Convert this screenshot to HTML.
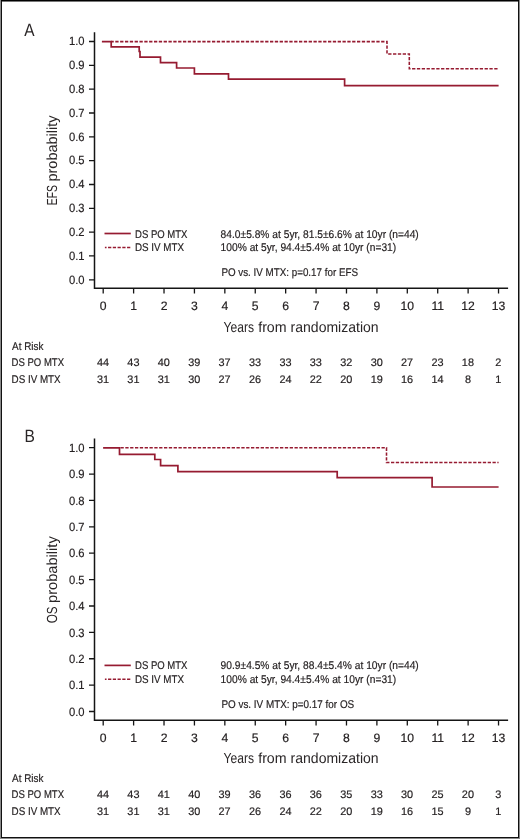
<!DOCTYPE html>
<html><head><meta charset="utf-8"><title>EFS / OS</title>
<style>
html,body{margin:0;padding:0;background:#fff;}
body{width:520px;height:839px;overflow:hidden;}
svg{display:block;will-change:transform;text-rendering:geometricPrecision;font-family:"Liberation Sans",sans-serif;}
svg text{fill:#262223;stroke:#262223;stroke-width:0.18px;}
svg text.t{stroke:none;fill:#2a2627;}
</style></head>
<body>
<svg width="520" height="839" viewBox="0 0 520 839">
<rect x="0" y="0" width="520" height="839" fill="#fff"/>
<!-- frame -->
<rect x="0" y="0" width="1" height="839" fill="#8a8a8a"/>
<rect x="519" y="0" width="1" height="839" fill="#8a8a8a"/>
<rect x="0" y="838" width="520" height="1" fill="#8a8a8a"/>
<rect x="1" y="0" width="1" height="838" fill="#111"/>
<rect x="518" y="0" width="1" height="838" fill="#111"/>
<rect x="1" y="0" width="518" height="1" fill="#000"/>
<rect x="2" y="1" width="516" height="1" fill="#777"/>
<rect x="1" y="837" width="518" height="1" fill="#111"/>
<path d="M94.5,32.20 V288.30 H508.1" fill="none" stroke="#151515" stroke-width="1.5"/>
<path d="M89,41.50H94.5M89,65.33H94.5M89,89.16H94.5M89,112.99H94.5M89,136.82H94.5M89,160.65H94.5M89,184.48H94.5M89,208.31H94.5M89,232.14H94.5M89,255.97H94.5M89,279.80H94.5" stroke="#151515" stroke-width="1.3"/>
<path d="M103.20,288.30V293.50M133.61,288.30V293.50M164.02,288.30V293.50M194.43,288.30V293.50M224.84,288.30V293.50M255.25,288.30V293.50M285.66,288.30V293.50M316.07,288.30V293.50M346.48,288.30V293.50M376.89,288.30V293.50M407.30,288.30V293.50M437.71,288.30V293.50M468.12,288.30V293.50M498.53,288.30V293.50" stroke="#151515" stroke-width="1.3"/>
<text x="84.5" y="45.20" text-anchor="end" font-size="12" textLength="15.6" lengthAdjust="spacingAndGlyphs">1.0</text>
<text x="84.5" y="69.03" text-anchor="end" font-size="12" textLength="15.6" lengthAdjust="spacingAndGlyphs">0.9</text>
<text x="84.5" y="92.86" text-anchor="end" font-size="12" textLength="15.6" lengthAdjust="spacingAndGlyphs">0.8</text>
<text x="84.5" y="116.69" text-anchor="end" font-size="12" textLength="15.6" lengthAdjust="spacingAndGlyphs">0.7</text>
<text x="84.5" y="140.52" text-anchor="end" font-size="12" textLength="15.6" lengthAdjust="spacingAndGlyphs">0.6</text>
<text x="84.5" y="164.35" text-anchor="end" font-size="12" textLength="15.6" lengthAdjust="spacingAndGlyphs">0.5</text>
<text x="84.5" y="188.18" text-anchor="end" font-size="12" textLength="15.6" lengthAdjust="spacingAndGlyphs">0.4</text>
<text x="84.5" y="212.01" text-anchor="end" font-size="12" textLength="15.6" lengthAdjust="spacingAndGlyphs">0.3</text>
<text x="84.5" y="235.84" text-anchor="end" font-size="12" textLength="15.6" lengthAdjust="spacingAndGlyphs">0.2</text>
<text x="84.5" y="259.67" text-anchor="end" font-size="12" textLength="15.6" lengthAdjust="spacingAndGlyphs">0.1</text>
<text x="84.5" y="283.50" text-anchor="end" font-size="12" textLength="15.6" lengthAdjust="spacingAndGlyphs">0.0</text>
<text x="103.20" y="309.70" text-anchor="middle" font-size="12.2">0</text>
<text x="133.61" y="309.70" text-anchor="middle" font-size="12.2">1</text>
<text x="164.02" y="309.70" text-anchor="middle" font-size="12.2">2</text>
<text x="194.43" y="309.70" text-anchor="middle" font-size="12.2">3</text>
<text x="224.84" y="309.70" text-anchor="middle" font-size="12.2">4</text>
<text x="255.25" y="309.70" text-anchor="middle" font-size="12.2">5</text>
<text x="285.66" y="309.70" text-anchor="middle" font-size="12.2">6</text>
<text x="316.07" y="309.70" text-anchor="middle" font-size="12.2">7</text>
<text x="346.48" y="309.70" text-anchor="middle" font-size="12.2">8</text>
<text x="376.89" y="309.70" text-anchor="middle" font-size="12.2">9</text>
<text x="407.30" y="309.70" text-anchor="middle" font-size="12.2">10</text>
<text x="437.71" y="309.70" text-anchor="middle" font-size="12.2">11</text>
<text x="468.12" y="309.70" text-anchor="middle" font-size="12.2">12</text>
<text x="498.53" y="309.70" text-anchor="middle" font-size="12.2">13</text>
<text x="223.6" y="331.50" class="t" font-size="14.6" textLength="30.5" lengthAdjust="spacingAndGlyphs">Years</text>
<text x="258.2" y="331.50" class="t" font-size="14.6" textLength="28.4" lengthAdjust="spacingAndGlyphs">from</text>
<text x="290.6" y="331.50" class="t" font-size="14.6" textLength="88.0" lengthAdjust="spacingAndGlyphs">randomization</text>
<text transform="translate(57.0,0) rotate(-90)" x="-205.30" y="0" class="t" font-size="14.6" textLength="20.2" lengthAdjust="spacingAndGlyphs">EFS</text>
<text transform="translate(57.0,0) rotate(-90)" x="-181.50" y="0" class="t" font-size="14.6" textLength="66.0" lengthAdjust="spacingAndGlyphs">probability</text>
<text x="24.2" y="35.90" class="t" font-size="17.8" textLength="10.3" lengthAdjust="spacingAndGlyphs">A</text>
<path d="M111.2,41.6 H387 V53.9 H409.3 V68.7 H498.6" fill="none" stroke="#961b31" stroke-width="1.55" stroke-dasharray="3.3 1.534" stroke-dashoffset="0.742"/>
<path d="M101.9,41.6 H111.2 V46.8 H139.2 V51.5 H140.0 V57.2 H160.5 V62.7 H176.6 V68.0 H194.4 V73.9 H228.5 V79.1 H344.6 V85.7 H498.6" fill="none" stroke="#961b31" stroke-width="1.7"/>
<path d="M104.5,233.50H130.8" stroke="#961b31" stroke-width="1.7"/>
<path d="M104.9,247.40H130.9" stroke="#961b31" stroke-width="1.55" stroke-dasharray="3.25 1.5" stroke-dashoffset="1.6"/>
<text x="135" y="237.50" font-size="11.2" textLength="52.4" lengthAdjust="spacingAndGlyphs">DS PO MTX</text>
<text x="135" y="250.80" font-size="11.2" textLength="49" lengthAdjust="spacingAndGlyphs">DS IV MTX</text>
<text x="220.6" y="237.50" font-size="11.2" textLength="198.2" lengthAdjust="spacingAndGlyphs">84.0±5.8% at 5yr, 81.5±6.6% at 10yr (n=44)</text>
<text x="220.6" y="250.80" font-size="11.2" textLength="175.6" lengthAdjust="spacingAndGlyphs">100% at 5yr, 94.4±5.4% at 10yr (n=31)</text>
<text x="221.4" y="275.70" font-size="11.2" textLength="136.6" lengthAdjust="spacingAndGlyphs">PO vs. IV MTX: p=0.17 for EFS</text>
<text x="12.1" y="349.90" font-size="11.2" textLength="31.4" lengthAdjust="spacingAndGlyphs">At Risk</text>
<text x="11.6" y="366.00" font-size="11.2" textLength="52.4" lengthAdjust="spacingAndGlyphs">DS PO MTX</text>
<text x="11.6" y="382.80" font-size="11.2" textLength="49" lengthAdjust="spacingAndGlyphs">DS IV MTX</text>
<text x="103.00" y="366.00" text-anchor="middle" font-size="10.9">44</text>
<text x="103.00" y="382.60" text-anchor="middle" font-size="10.9">31</text>
<text x="133.41" y="366.00" text-anchor="middle" font-size="10.9">43</text>
<text x="133.41" y="382.60" text-anchor="middle" font-size="10.9">31</text>
<text x="163.82" y="366.00" text-anchor="middle" font-size="10.9">40</text>
<text x="163.82" y="382.60" text-anchor="middle" font-size="10.9">31</text>
<text x="194.23" y="366.00" text-anchor="middle" font-size="10.9">39</text>
<text x="194.23" y="382.60" text-anchor="middle" font-size="10.9">30</text>
<text x="224.64" y="366.00" text-anchor="middle" font-size="10.9">37</text>
<text x="224.64" y="382.60" text-anchor="middle" font-size="10.9">27</text>
<text x="255.05" y="366.00" text-anchor="middle" font-size="10.9">33</text>
<text x="255.05" y="382.60" text-anchor="middle" font-size="10.9">26</text>
<text x="285.46" y="366.00" text-anchor="middle" font-size="10.9">33</text>
<text x="285.46" y="382.60" text-anchor="middle" font-size="10.9">24</text>
<text x="315.87" y="366.00" text-anchor="middle" font-size="10.9">33</text>
<text x="315.87" y="382.60" text-anchor="middle" font-size="10.9">22</text>
<text x="346.28" y="366.00" text-anchor="middle" font-size="10.9">32</text>
<text x="346.28" y="382.60" text-anchor="middle" font-size="10.9">20</text>
<text x="376.69" y="366.00" text-anchor="middle" font-size="10.9">30</text>
<text x="376.69" y="382.60" text-anchor="middle" font-size="10.9">19</text>
<text x="407.10" y="366.00" text-anchor="middle" font-size="10.9">27</text>
<text x="407.10" y="382.60" text-anchor="middle" font-size="10.9">16</text>
<text x="437.51" y="366.00" text-anchor="middle" font-size="10.9">23</text>
<text x="437.51" y="382.60" text-anchor="middle" font-size="10.9">14</text>
<text x="467.92" y="366.00" text-anchor="middle" font-size="10.9">18</text>
<text x="467.92" y="382.60" text-anchor="middle" font-size="10.9">8</text>
<text x="498.33" y="366.00" text-anchor="middle" font-size="10.9">2</text>
<text x="498.33" y="382.60" text-anchor="middle" font-size="10.9">1</text>
<path d="M94.5,438.40 V720.20 H508.1" fill="none" stroke="#151515" stroke-width="1.5"/>
<path d="M89,447.70H94.5M89,474.08H94.5M89,500.46H94.5M89,526.84H94.5M89,553.22H94.5M89,579.60H94.5M89,605.98H94.5M89,632.36H94.5M89,658.74H94.5M89,685.12H94.5M89,711.50H94.5" stroke="#151515" stroke-width="1.3"/>
<path d="M103.20,720.20V725.40M133.61,720.20V725.40M164.02,720.20V725.40M194.43,720.20V725.40M224.84,720.20V725.40M255.25,720.20V725.40M285.66,720.20V725.40M316.07,720.20V725.40M346.48,720.20V725.40M376.89,720.20V725.40M407.30,720.20V725.40M437.71,720.20V725.40M468.12,720.20V725.40M498.53,720.20V725.40" stroke="#151515" stroke-width="1.3"/>
<text x="84.5" y="451.90" text-anchor="end" font-size="12" textLength="15.6" lengthAdjust="spacingAndGlyphs">1.0</text>
<text x="84.5" y="478.28" text-anchor="end" font-size="12" textLength="15.6" lengthAdjust="spacingAndGlyphs">0.9</text>
<text x="84.5" y="504.66" text-anchor="end" font-size="12" textLength="15.6" lengthAdjust="spacingAndGlyphs">0.8</text>
<text x="84.5" y="531.04" text-anchor="end" font-size="12" textLength="15.6" lengthAdjust="spacingAndGlyphs">0.7</text>
<text x="84.5" y="557.42" text-anchor="end" font-size="12" textLength="15.6" lengthAdjust="spacingAndGlyphs">0.6</text>
<text x="84.5" y="583.80" text-anchor="end" font-size="12" textLength="15.6" lengthAdjust="spacingAndGlyphs">0.5</text>
<text x="84.5" y="610.18" text-anchor="end" font-size="12" textLength="15.6" lengthAdjust="spacingAndGlyphs">0.4</text>
<text x="84.5" y="636.56" text-anchor="end" font-size="12" textLength="15.6" lengthAdjust="spacingAndGlyphs">0.3</text>
<text x="84.5" y="662.94" text-anchor="end" font-size="12" textLength="15.6" lengthAdjust="spacingAndGlyphs">0.2</text>
<text x="84.5" y="689.32" text-anchor="end" font-size="12" textLength="15.6" lengthAdjust="spacingAndGlyphs">0.1</text>
<text x="84.5" y="715.70" text-anchor="end" font-size="12" textLength="15.6" lengthAdjust="spacingAndGlyphs">0.0</text>
<text x="103.20" y="741.60" text-anchor="middle" font-size="12.2">0</text>
<text x="133.61" y="741.60" text-anchor="middle" font-size="12.2">1</text>
<text x="164.02" y="741.60" text-anchor="middle" font-size="12.2">2</text>
<text x="194.43" y="741.60" text-anchor="middle" font-size="12.2">3</text>
<text x="224.84" y="741.60" text-anchor="middle" font-size="12.2">4</text>
<text x="255.25" y="741.60" text-anchor="middle" font-size="12.2">5</text>
<text x="285.66" y="741.60" text-anchor="middle" font-size="12.2">6</text>
<text x="316.07" y="741.60" text-anchor="middle" font-size="12.2">7</text>
<text x="346.48" y="741.60" text-anchor="middle" font-size="12.2">8</text>
<text x="376.89" y="741.60" text-anchor="middle" font-size="12.2">9</text>
<text x="407.30" y="741.60" text-anchor="middle" font-size="12.2">10</text>
<text x="437.71" y="741.60" text-anchor="middle" font-size="12.2">11</text>
<text x="468.12" y="741.60" text-anchor="middle" font-size="12.2">12</text>
<text x="498.53" y="741.60" text-anchor="middle" font-size="12.2">13</text>
<text x="223.6" y="763.10" class="t" font-size="14.6" textLength="30.5" lengthAdjust="spacingAndGlyphs">Years</text>
<text x="258.2" y="763.10" class="t" font-size="14.6" textLength="28.4" lengthAdjust="spacingAndGlyphs">from</text>
<text x="290.6" y="763.10" class="t" font-size="14.6" textLength="88.0" lengthAdjust="spacingAndGlyphs">randomization</text>
<text transform="translate(57.0,0) rotate(-90)" x="-623.30" y="0" class="t" font-size="14.6" textLength="16.8" lengthAdjust="spacingAndGlyphs">OS</text>
<text transform="translate(57.0,0) rotate(-90)" x="-602.90" y="0" class="t" font-size="14.6" textLength="66.6" lengthAdjust="spacingAndGlyphs">probability</text>
<text x="24.6" y="442.35" class="t" font-size="17.8" textLength="10.4" lengthAdjust="spacingAndGlyphs">B</text>
<path d="M119.3,447.8 H386.5 V462.5 H498.6" fill="none" stroke="#961b31" stroke-width="1.55" stroke-dasharray="3.3 1.534" stroke-dashoffset="3.658"/>
<path d="M103.1,447.8 H119.5 V454.3 H154.8 V459.5 H160.6 V465.7 H177.9 V471.7 H337.2 V477.7 H432.1 V487.0 H498.6" fill="none" stroke="#961b31" stroke-width="1.7"/>
<path d="M104.5,665.40H130.8" stroke="#961b31" stroke-width="1.7"/>
<path d="M104.9,679.30H130.9" stroke="#961b31" stroke-width="1.55" stroke-dasharray="3.25 1.5" stroke-dashoffset="1.6"/>
<text x="135" y="669.40" font-size="11.2" textLength="52.4" lengthAdjust="spacingAndGlyphs">DS PO MTX</text>
<text x="135" y="682.70" font-size="11.2" textLength="49" lengthAdjust="spacingAndGlyphs">DS IV MTX</text>
<text x="220.6" y="669.40" font-size="11.2" textLength="198.2" lengthAdjust="spacingAndGlyphs">90.9±4.5% at 5yr, 88.4±5.4% at 10yr (n=44)</text>
<text x="220.6" y="682.70" font-size="11.2" textLength="175.6" lengthAdjust="spacingAndGlyphs">100% at 5yr, 94.4±5.4% at 10yr (n=31)</text>
<text x="221.4" y="707.60" font-size="11.2" textLength="132.8" lengthAdjust="spacingAndGlyphs">PO vs. IV MTX: p=0.17 for OS</text>
<text x="12.1" y="781.80" font-size="11.2" textLength="31.4" lengthAdjust="spacingAndGlyphs">At Risk</text>
<text x="11.6" y="797.90" font-size="11.2" textLength="52.4" lengthAdjust="spacingAndGlyphs">DS PO MTX</text>
<text x="11.6" y="814.70" font-size="11.2" textLength="49" lengthAdjust="spacingAndGlyphs">DS IV MTX</text>
<text x="103.00" y="797.90" text-anchor="middle" font-size="10.9">44</text>
<text x="103.00" y="814.50" text-anchor="middle" font-size="10.9">31</text>
<text x="133.41" y="797.90" text-anchor="middle" font-size="10.9">43</text>
<text x="133.41" y="814.50" text-anchor="middle" font-size="10.9">31</text>
<text x="163.82" y="797.90" text-anchor="middle" font-size="10.9">41</text>
<text x="163.82" y="814.50" text-anchor="middle" font-size="10.9">31</text>
<text x="194.23" y="797.90" text-anchor="middle" font-size="10.9">40</text>
<text x="194.23" y="814.50" text-anchor="middle" font-size="10.9">30</text>
<text x="224.64" y="797.90" text-anchor="middle" font-size="10.9">39</text>
<text x="224.64" y="814.50" text-anchor="middle" font-size="10.9">27</text>
<text x="255.05" y="797.90" text-anchor="middle" font-size="10.9">36</text>
<text x="255.05" y="814.50" text-anchor="middle" font-size="10.9">26</text>
<text x="285.46" y="797.90" text-anchor="middle" font-size="10.9">36</text>
<text x="285.46" y="814.50" text-anchor="middle" font-size="10.9">24</text>
<text x="315.87" y="797.90" text-anchor="middle" font-size="10.9">36</text>
<text x="315.87" y="814.50" text-anchor="middle" font-size="10.9">22</text>
<text x="346.28" y="797.90" text-anchor="middle" font-size="10.9">35</text>
<text x="346.28" y="814.50" text-anchor="middle" font-size="10.9">20</text>
<text x="376.69" y="797.90" text-anchor="middle" font-size="10.9">33</text>
<text x="376.69" y="814.50" text-anchor="middle" font-size="10.9">19</text>
<text x="407.10" y="797.90" text-anchor="middle" font-size="10.9">30</text>
<text x="407.10" y="814.50" text-anchor="middle" font-size="10.9">16</text>
<text x="437.51" y="797.90" text-anchor="middle" font-size="10.9">25</text>
<text x="437.51" y="814.50" text-anchor="middle" font-size="10.9">15</text>
<text x="467.92" y="797.90" text-anchor="middle" font-size="10.9">20</text>
<text x="467.92" y="814.50" text-anchor="middle" font-size="10.9">9</text>
<text x="498.33" y="797.90" text-anchor="middle" font-size="10.9">3</text>
<text x="498.33" y="814.50" text-anchor="middle" font-size="10.9">1</text>
</svg>
</body></html>
